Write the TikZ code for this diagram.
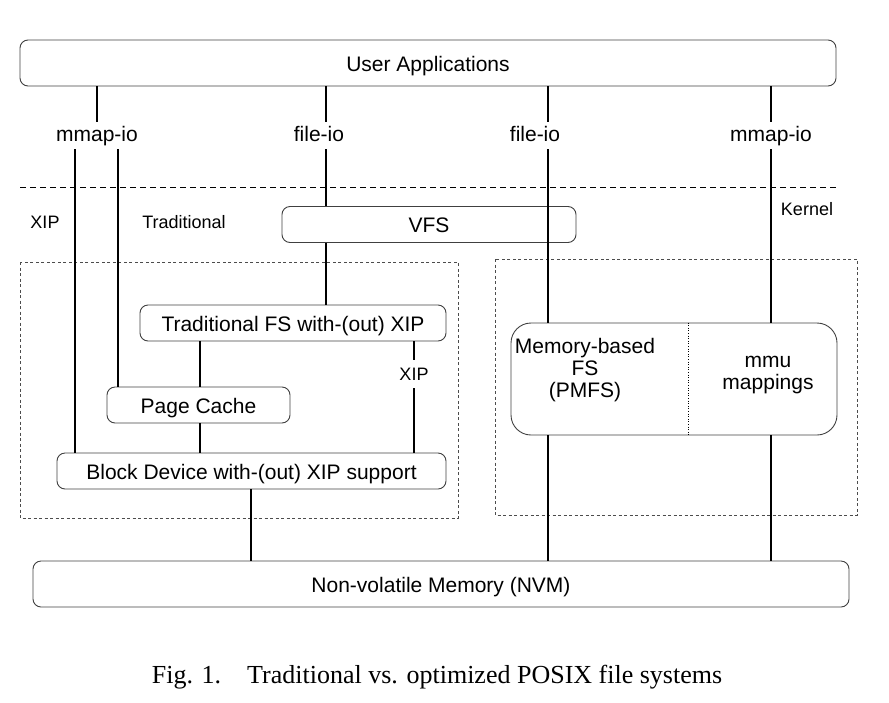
\documentclass[tikz,border=0pt]{standalone}
\usepackage{fontspec}
\setmainfont{Liberation Sans}
\newfontfamily\capfont{Liberation Serif}
\usepackage{tikz}
\tikzset{
  layer/.style = {draw=black!75, line width=0.9pt, rounded corners=8pt, minimum height=36pt, inner sep=0pt, text height=20pt, text depth=4pt, font=\fontsize{21}{23}\selectfont},
  wire/.style = {line width=1.8pt},
  lbl/.style = {inner sep=3pt, text height=16pt, text depth=5pt, font=\fontsize{21}{23}\selectfont},
  inbox/.style = {inner sep=3pt, align=center, font=\fontsize{21}{22}\selectfont},
  note/.style = {inner sep=3pt, font=\fontsize{18}{20}\selectfont},
  group/.style = {draw=black!70, line width=0.7pt, dash pattern=on 3pt off 2.5pt}
}

\begin{document}
\begin{tikzpicture}[x=1pt, y=-1pt]
\useasboundingbox (0,0) rectangle (889,702);

\node[layer, minimum width=816pt, minimum height=46pt] (UA) at (428,63) {User Applications};
\node[layer, minimum width=294pt] (VFS) at (429,224.5) {VFS};
\node[layer, minimum width=306pt] (TradFS) at (293,323) {Traditional FS with-(out) XIP};
\node[layer, minimum width=183pt] (Cache) at (198.5,405) {Page Cache};
\node[layer, minimum width=389pt] (Block) at (251.5,471) {Block Device with-(out) XIP support};
\node[layer, minimum width=326pt, minimum height=112pt, rounded corners=20pt] (MemFS) at (674,379) {};
\node[layer, minimum width=816pt, minimum height=46pt] (NVM) at (441,584) {Non-volatile Memory (NVM)};

\node[inbox] (pmfs) at (585,370) {Memory-based\\FS\\(PMFS)};
\node[inbox] (mmu) at (768,375) {mmu\\mappings};

\node[lbl] (mmapA) at (97,135.5) {mmap-io};
\node[lbl] (fileA) at (319,135.5) {file-io};
\node[lbl] (fileB) at (535,135.5) {file-io};
\node[lbl] (mmapB) at (771,135.5) {mmap-io};

\node[note] (xipA) at (45,222) {XIP};
\node[note] (trad) at (184,222) {Traditional};
\node[note] (kern) at (807,209) {Kernel};
\node[note, inner sep=8pt] (xipB) at (414,374) {XIP};

\node[font=\capfont\fontsize{26}{28}\selectfont] (cap) at (437,677) {Fig. 1.\quad Traditional vs. optimized POSIX file systems};

\coordinate (xa) at (75,0);
\coordinate (xb) at (118,0);
\coordinate (xc) at (97,0);
\coordinate (xd) at (326,0);
\coordinate (xe) at (200,0);
\coordinate (xf) at (414,0);
\coordinate (xg) at (251,0);
\coordinate (xh) at (548,0);
\coordinate (xi) at (771,0);
\coordinate (xdiv) at (688,0);

\draw[dash pattern=on 6pt off 4pt, line width=0.8pt] (20,187) -- (836,187);
\draw[group] (20,262) rectangle (458,518);
\draw[group] (495,259) rectangle (857,515);
\draw[dotted, line width=0.6pt] (MemFS.north -| xdiv) -- (MemFS.south -| xdiv);

\draw[wire] (UA.south -| xc) -- (mmapA.north -| xc);
\draw[wire] (mmapA.south -| xa) -- (Block.north -| xa);
\draw[wire] (mmapA.south -| xb) -- (Cache.north -| xb);
\draw[wire] (UA.south -| xd) -- (fileA.north -| xd);
\draw[wire] (fileA.south -| xd) -- (VFS.north -| xd);
\draw[wire] (VFS.south -| xd) -- (TradFS.north -| xd);
\draw[wire] (TradFS.south -| xe) -- (Cache.north -| xe);
\draw[wire] (Cache.south -| xe) -- (Block.north -| xe);
\draw[wire] (TradFS.south -| xf) -- (xipB.north -| xf);
\draw[wire] (xipB.south -| xf) -- (Block.north -| xf);
\draw[wire] (Block.south -| xg) -- (NVM.north -| xg);
\draw[wire] (UA.south -| xh) -- (fileB.north -| xh);
\draw[wire] (fileB.south -| xh) -- (MemFS.north -| xh);
\draw[wire] (MemFS.south -| xh) -- (NVM.north -| xh);
\draw[wire] (UA.south -| xi) -- (mmapB.north -| xi);
\draw[wire] (mmapB.south -| xi) -- (MemFS.north -| xi);
\draw[wire] (MemFS.south -| xi) -- (NVM.north -| xi);
\end{tikzpicture}
\end{document}
